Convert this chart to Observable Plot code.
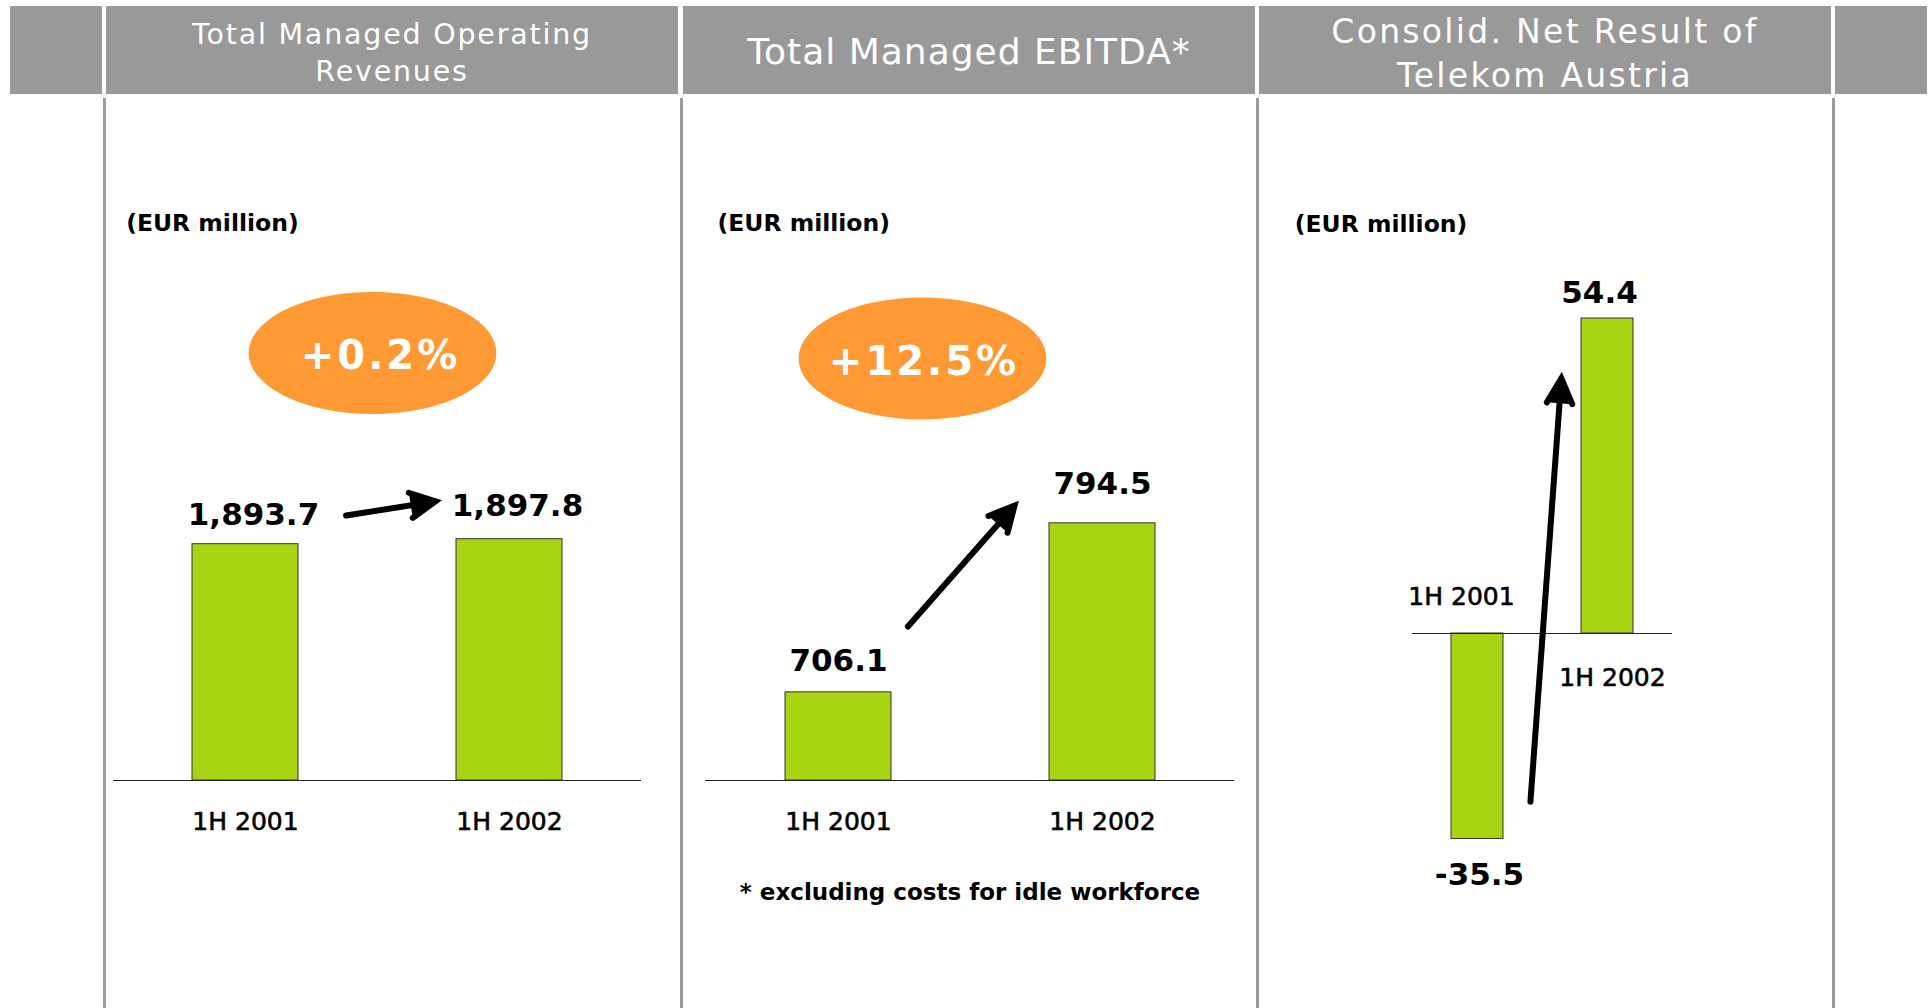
<!DOCTYPE html>
<html>
<head>
<meta charset="utf-8">
<script src="https://cdn.jsdelivr.net/npm/d3@7"></script>
<script src="https://cdn.jsdelivr.net/npm/@observablehq/plot@0.6"></script>
<style>
  html, body { margin: 0; padding: 0; background: #fff; }
  body { position: relative; width: 1929px; height: 1008px; overflow: hidden; font-family: "DejaVu Sans", Verdana, sans-serif; }
  .hd { position: absolute; top: 6px; height: 88px; background: #999999; color: #fff; display: flex; align-items: center; justify-content: center; text-align: center; box-sizing: border-box; }
  .vl { position: absolute; top: 98px; height: 910px; width: 3px; background: #9c9c9c; }
  .panel { position: absolute; top: 98px; }
  .panel svg { display: block; overflow: visible; }
</style>
</head>
<body>
<script>
// ---------- data ----------
const periods = ["1H 2001", "1H 2002"];
const revenues = [1893.7, 1897.8];
const ebitda = [706.1, 794.5];
const netResult = [-35.5, 54.4];
const revenueGrowth = ["+0.2%"];
const ebitdaGrowth = ["+12.5%"];
const revenueTitle = ["Total Managed Operating", "Revenues"];
const ebitdaTitle = ["Total Managed EBITDA*"];
const netTitle = ["Consolid. Net Result of", "Telekom Austria"];
const unitLabel = ["(EUR million)"];
const footnote = ["* excluding costs for idle workforce"];

// ---------- styles ----------
const green = "#A7D513";
const orange = "#FF9933";
const font = "DejaVu Sans";
const fmt = v => d3.format(",.1f")(v).replace("\u2212", "-");

// ---------- page frame (header cells and dividers) ----------
const headerCells = [
  {left: 10, width: 92, lines: [], size: 0, ls: 0, lh: 0, pad: 0},
  {left: 106, width: 572, lines: revenueTitle, size: 28.5, ls: 1.8, lh: 37, pad: 6},
  {left: 683, width: 572, lines: ebitdaTitle, size: 36, ls: 1, lh: 40, pad: 4},
  {left: 1259, width: 572, lines: netTitle, size: 33, ls: 2.3, lh: 44, pad: 7},
  {left: 1835, width: 92, lines: [], size: 0, ls: 0, lh: 0, pad: 0}
];
for (const c of headerCells) {
  const d = document.createElement("div");
  d.className = "hd";
  d.style.left = c.left + "px";
  d.style.width = c.width + "px";
  d.style.paddingTop = c.pad + "px";
  if (c.lines.length) {
    const t = document.createElement("div");
    t.style.fontSize = c.size + "px";
    t.style.letterSpacing = c.ls + "px";
    t.style.lineHeight = c.lh + "px";
    t.innerHTML = c.lines.join("<br>");
    d.appendChild(t);
  }
  document.body.appendChild(d);
}
for (const x of [103, 680, 1256, 1832]) {
  const v = document.createElement("div");
  v.className = "vl";
  v.style.left = x + "px";
  document.body.appendChild(v);
}

// ---------- helpers ----------
function ellipseSymbol(ratio) {
  const k = 0.5522847498;
  return {
    draw(context, size) {
      const ry = Math.sqrt(size / Math.PI), rx = ry * ratio;
      context.moveTo(rx, 0);
      context.bezierCurveTo(rx, k * ry, k * rx, ry, 0, ry);
      context.bezierCurveTo(-k * rx, ry, -rx, k * ry, -rx, 0);
      context.bezierCurveTo(-rx, -k * ry, -k * rx, -ry, 0, -ry);
      context.bezierCurveTo(k * rx, -ry, rx, -k * ry, rx, 0);
      context.closePath();
    }
  };
}
const ellipse = ellipseSymbol(2.03);
const arrowStyle = {stroke: "#000", fill: "#000", strokeWidth: 6, headLength: 7, headAngle: 54, strokeLinejoin: "miter", strokeMiterlimit: 3};
const valueStyle = {fontSize: 31, fontWeight: "bold", fill: "#000", fontFamily: font};
const catStyle = {fontSize: 25, fontWeight: "normal", fill: "#000", stroke: "#000", strokeWidth: 0.6, fontFamily: font};
const unitStyle = {frameAnchor: "top-left", textAnchor: "start", lineAnchor: "middle", fontSize: 23.5, fontWeight: "bold", fill: "#000", fontFamily: font};
const pctStyle = {frameAnchor: "top", textAnchor: "middle", lineAnchor: "middle", fontSize: 40, fontWeight: "bold", fill: "#fff", fontFamily: font};

function mount(svg, left) {
  const d = document.createElement("div");
  d.className = "panel";
  d.style.left = left + "px";
  d3.select(svg).selectAll("text").filter(function () { return /%$/.test(this.textContent); }).attr("letter-spacing", 3);
  d.appendChild(svg);
  document.body.appendChild(d);
}

// ---------- panel 1: revenues ----------
const rev = periods.map((p, i) => ({period: p, value: revenues[i]}));
const revBase = 1700;
mount(Plot.plot({
  width: 573, height: 910,
  marginLeft: 7, marginRight: 38, marginTop: 0, marginBottom: 0,
  style: {fontFamily: font, background: "transparent", overflow: "visible"},
  x: {domain: periods, paddingInner: 0.6, paddingOuter: 0.3, axis: null},
  y: {domain: [revBase, 2000], range: [682, 316], axis: null},
  marks: [
    Plot.text(unitLabel, {...unitStyle, text: d => d, dx: 12.7, dy: 125}),
    Plot.dot(revenueGrowth, {frameAnchor: "top", dx: -5, dy: 254.5, r: 61, symbol: ellipse, fill: orange, stroke: null}),
    Plot.text(revenueGrowth, {...pctStyle, text: d => d, dx: 3, dy: 258}),
    Plot.barY(rev, {x: "period", y1: revBase, y2: "value", fill: green, stroke: "#333", strokeWidth: 1}),
    Plot.ruleY([revBase], {stroke: "#222", strokeWidth: 1}),
    Plot.text(rev, {...valueStyle, filter: (d, i) => i === 0, x: "period", y: "value", text: d => fmt(d.value), dx: 8, dy: -29}),
    Plot.text(rev, {...valueStyle, filter: (d, i) => i === 1, x: "period", y: "value", text: d => fmt(d.value), dx: 8, dy: -33}),
    Plot.text(rev, {...catStyle, x: "period", y: revBase, text: "period", dy: 41}),
    Plot.arrow([{a: periods[0], b: periods[1], ya: 1904.1, yb: 1938.4}],
      {...arrowStyle, x1: "a", x2: "b", y1: "ya", y2: "yb", insetStart: 101.8, insetEnd: 75})
  ]
}), 106);

// ---------- panel 2: EBITDA ----------
const ebt = periods.map((p, i) => ({period: p, value: ebitda[i]}));
const ebtBase = 660;
mount(Plot.plot({
  width: 572, height: 910,
  marginLeft: 22, marginRight: 21, marginTop: 0, marginBottom: 0,
  style: {fontFamily: font, background: "transparent", overflow: "visible"},
  x: {domain: periods, paddingInner: 0.6, paddingOuter: 0.3, axis: null},
  y: {domain: [ebtBase, 900], range: [682, 223.1], axis: null},
  marks: [
    Plot.text(unitLabel, {...unitStyle, text: d => d, dx: 12, dy: 125}),
    Plot.dot(ebitdaGrowth, {frameAnchor: "top", dx: -47.5, dy: 260, r: 61, symbol: ellipse, fill: orange, stroke: null}),
    Plot.text(ebitdaGrowth, {...pctStyle, text: d => d, dx: -46, dy: 263.5}),
    Plot.barY(ebt, {x: "period", y1: ebtBase, y2: "value", fill: green, stroke: "#333", strokeWidth: 1}),
    Plot.ruleY([ebtBase], {stroke: "#222", strokeWidth: 1}),
    Plot.text(ebt, {...valueStyle, filter: (d, i) => i === 0, x: "period", y: "value", text: d => fmt(d.value), dy: -31}),
    Plot.text(ebt, {...valueStyle, filter: (d, i) => i === 1, x: "period", y: "value", text: d => fmt(d.value), dy: -39}),
    Plot.text(ebt, {...catStyle, x: "period", y: ebtBase, text: "period", dy: 41}),
    Plot.text(footnote, {frameAnchor: "top", textAnchor: "middle", lineAnchor: "middle", text: d => d, dy: 794, fontSize: 23, fontWeight: "bold", fill: "#000", fontFamily: font}),
    Plot.arrow([{a: periods[0], b: periods[1], ya: 699.4, yb: 855.9}],
      {...arrowStyle, x1: "a", x2: "b", y1: "ya", y2: "yb", insetStart: 104.9, insetEnd: 133})
  ]
}), 683);

// ---------- panel 3: net result ----------
const net = periods.map((p, i) => ({period: p, value: netResult[i]}));
mount(Plot.plot({
  width: 572, height: 910,
  marginLeft: 153, marginRight: 159, marginTop: 0, marginBottom: 0,
  style: {fontFamily: font, background: "transparent", overflow: "visible"},
  x: {domain: periods, paddingInner: 0.6, paddingOuter: 0.3, axis: null},
  y: {domain: [-40, 60], range: [766.6, 187.6], axis: null},
  marks: [
    Plot.text(unitLabel, {...unitStyle, text: d => d, dx: -117.7, dy: 125.5}),
    Plot.barY(net, {x: "period", y1: 0, y2: "value", fill: green, stroke: "#333", strokeWidth: 1}),
    Plot.ruleY([0], {stroke: "#222", strokeWidth: 1}),
    Plot.text(net, {...valueStyle, filter: (d, i) => i === 0, x: "period", y: "value", text: d => fmt(d.value), dx: 2, dy: 36}),
    Plot.text(net, {...valueStyle, filter: (d, i) => i === 1, x: "period", y: "value", text: d => fmt(d.value), dx: -8, dy: -25}),
    Plot.text(net, {...catStyle, filter: (d, i) => i === 0, x: "period", y: 0, text: "period", dx: -16, dy: -36.5}),
    Plot.text(net, {...catStyle, filter: (d, i) => i === 1, x: "period", y: 0, text: "period", dx: 5, dy: 44}),
    Plot.arrow([{a: periods[0], b: periods[1], ya: -154.1, yb: 153.1}],
      {...arrowStyle, x1: "a", x2: "b", y1: "ya", y2: "yb", insetStart: 726, insetEnd: 633})
  ]
}), 1259);
</script>
</body>
</html>
